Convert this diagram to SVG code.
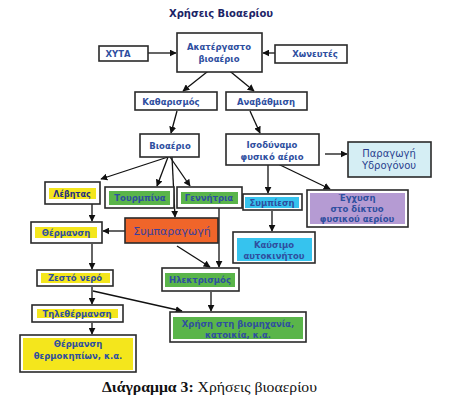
<svg xmlns="http://www.w3.org/2000/svg" width="449" height="410" viewBox="0 0 449 410">
<defs>
<marker id="ah" viewBox="0 0 10 10" refX="9" refY="5" markerWidth="7" markerHeight="7" markerUnits="userSpaceOnUse" orient="auto"><path d="M0,0 L10,5 L0,10 z" fill="#111"/></marker>
<style>
.box{fill:#fff;stroke:#2a2a2a;stroke-width:1.6}
.t{font-family:"DejaVu Sans",Verdana,sans-serif;font-weight:bold;font-size:8.5px;fill:#2f4f9f;text-anchor:middle}
.yel{fill:#f4e61c}
.grn{fill:#5ab54a}
.cyn{fill:#36c3ee}
.c line{stroke:#111;stroke-width:1.3;marker-end:url(#ah)}
</style>
</defs>
<rect width="449" height="410" fill="#fff"/>
<text x="221" y="17" style="font-family:'DejaVu Sans',Verdana,sans-serif;font-weight:bold;font-size:10px;fill:#1c2466" text-anchor="middle">Χρήσεις Βιοαερίου</text>

<g id="connectors" class="c">
<line x1="148" y1="53" x2="176" y2="53"/>
<line x1="275" y1="53" x2="263" y2="53"/>
<line x1="212" y1="68" x2="183" y2="91"/>
<line x1="226" y1="68" x2="254" y2="91"/>
<line x1="177" y1="111" x2="171" y2="133"/>
<line x1="250" y1="111" x2="260" y2="133"/>
<line x1="168" y1="157" x2="101" y2="179"/>
<line x1="168" y1="157" x2="157" y2="186"/>
<line x1="170" y1="157" x2="190" y2="186"/>
<line x1="172" y1="157" x2="175" y2="217"/>
<line x1="92" y1="204" x2="92" y2="221"/>
<line x1="125" y1="231" x2="103" y2="231"/>
<line x1="219" y1="208" x2="219" y2="267"/>
<line x1="177" y1="246" x2="210" y2="267"/>
<line x1="92" y1="244" x2="92" y2="269"/>
<line x1="92" y1="287" x2="92" y2="304"/>
<line x1="93" y1="291" x2="182" y2="311"/>
<line x1="92" y1="323" x2="92" y2="334"/>
<line x1="211" y1="292" x2="211" y2="311"/>
<line x1="325" y1="154" x2="347" y2="154"/>
<line x1="268" y1="165" x2="268" y2="193"/>
<line x1="278" y1="164" x2="330" y2="189"/>
<line x1="272" y1="211" x2="272" y2="231"/>
</g>

<g id="n-akatergasto"><rect class="box" x="177" y="33" width="85" height="39"/><text class="t" x="219" y="50">Ακατέργαστο</text><text class="t" x="219" y="62">βιοαέριο</text></g>
<g id="n-xyta"><rect class="box" x="99" y="46" width="49" height="15"/><text class="t" x="118" y="57">ΧΥΤΑ</text></g>
<g id="n-xoneutes"><rect class="box" x="275" y="45" width="72" height="18"/><text class="t" x="315" y="57">Χωνευτές</text></g>
<g id="n-katharismos"><rect class="box" x="135" y="92" width="82" height="18"/><text class="t" x="171" y="105">Καθαρισμός</text></g>
<g id="n-anavathmisi"><rect class="box" x="226" y="92" width="81" height="18"/><text class="t" x="266" y="105">Αναβάθμιση</text></g>
<g id="n-vioaerio"><rect class="box" x="140" y="134" width="59" height="23"/><text class="t" x="170" y="149">Βιοαέριο</text></g>
<g id="n-isodynamo"><rect class="box" x="226" y="134" width="93" height="31"/><text class="t" x="272" y="148">Ισοδύναμο</text><text class="t" x="272" y="160">φυσικό αέριο</text></g>
<g id="n-ydrogono"><rect x="348" y="142" width="83" height="35" fill="#d5eef4" stroke="#2a2a2a" stroke-width="1.6"/><text x="389" y="157" style="font-family:'DejaVu Sans',Verdana,sans-serif;font-size:10px;fill:#2a3f8f" text-anchor="middle">Παραγωγή</text><text x="389" y="169" style="font-family:'DejaVu Sans',Verdana,sans-serif;font-size:10px;fill:#2a3f8f" text-anchor="middle">Υδρογόνου</text></g>
<g id="n-levitas"><rect class="box" x="45" y="182" width="55" height="22"/><rect class="yel" x="49" y="188" width="47" height="11"/><text class="t" x="72" y="197" style="fill:#1f2f80;font-size:8px">Λέβητας</text></g>
<g id="n-tourmpina"><rect class="box" x="105" y="187" width="69" height="21"/><rect class="grn" x="109" y="191" width="61" height="14"/><text class="t" x="140" y="201">Τουρμπίνα</text></g>
<g id="n-gennitria"><rect class="box" x="177" y="187" width="65" height="21"/><rect class="grn" x="181" y="192" width="57" height="12"/><text class="t" x="209" y="201">Γεννήτρια</text></g>
<g id="n-sympiesi"><rect class="box" x="243" y="194" width="59" height="16"/><rect class="cyn" x="245" y="197" width="54" height="11"/><text class="t" x="272" y="206">Συμπίεση</text></g>
<g id="n-egxysi"><rect class="box" x="307" y="190" width="101" height="37"/><rect x="310" y="193" width="95" height="31" fill="#b59bd3"/><text class="t" x="357" y="201">Έγχυση</text><text class="t" x="357" y="212">στο δίκτυο</text><text class="t" x="357" y="222">φυσικού αερίου</text></g>
<g id="n-thermansi"><rect class="box" x="31" y="222" width="71" height="21"/><rect class="yel" x="35" y="227" width="62" height="11"/><text class="t" x="66" y="236">Θέρμανση</text></g>
<g id="n-symparagogi"><rect x="125" y="218" width="93" height="25" fill="#f0652a" stroke="#2a2a2a" stroke-width="1.6"/><text x="172" y="235" style="font-family:'DejaVu Sans',Verdana,sans-serif;font-size:11px;fill:#3b3f9e" text-anchor="middle">Συμπαραγωγή</text></g>
<g id="n-kausimo"><rect class="box" x="233" y="232" width="82" height="31"/><rect class="cyn" x="237" y="238" width="75" height="23"/><text class="t" x="274" y="248">Καύσιμο</text><text class="t" x="274" y="259">αυτοκινήτου</text></g>
<g id="n-zesto"><rect class="box" x="37" y="270" width="76" height="16"/><rect class="yel" x="41" y="273" width="69" height="10"/><text class="t" x="75" y="281">Ζεστό νερό</text></g>
<g id="n-ilektrismos"><rect class="box" x="162" y="268" width="77" height="23"/><rect class="grn" x="165" y="273" width="70" height="14"/><text class="t" x="200" y="283">Ηλεκτρισμός</text></g>
<g id="n-tilethermansi"><rect class="box" x="32" y="305" width="91" height="17"/><rect class="yel" x="37" y="309" width="81" height="9"/><text class="t" x="77" y="317">Τηλεθέρμανση</text></g>
<g id="n-xrisi"><rect class="box" x="170" y="312" width="136" height="30"/><rect class="grn" x="173" y="317" width="130" height="22"/><text class="t" x="238" y="327">Χρήση στη βιομηχανία,</text><text class="t" x="238" y="338">κατοικία, κ.α.</text></g>
<g id="n-thermokipia"><rect class="box" x="20" y="335" width="116" height="37"/><rect class="yel" x="23" y="338" width="110" height="32"/><text class="t" x="78" y="347">Θέρμανση</text><text class="t" x="78" y="359">θερμοκηπίων, κ.α.</text></g>

<text x="102" y="392" textLength="215" lengthAdjust="spacingAndGlyphs" style="font-family:'Liberation Serif','Times New Roman',serif;font-size:15px;fill:#111"><tspan font-weight="bold">Διάγραμμα 3:</tspan> Χρήσεις βιοαερίου</text>
</svg>
